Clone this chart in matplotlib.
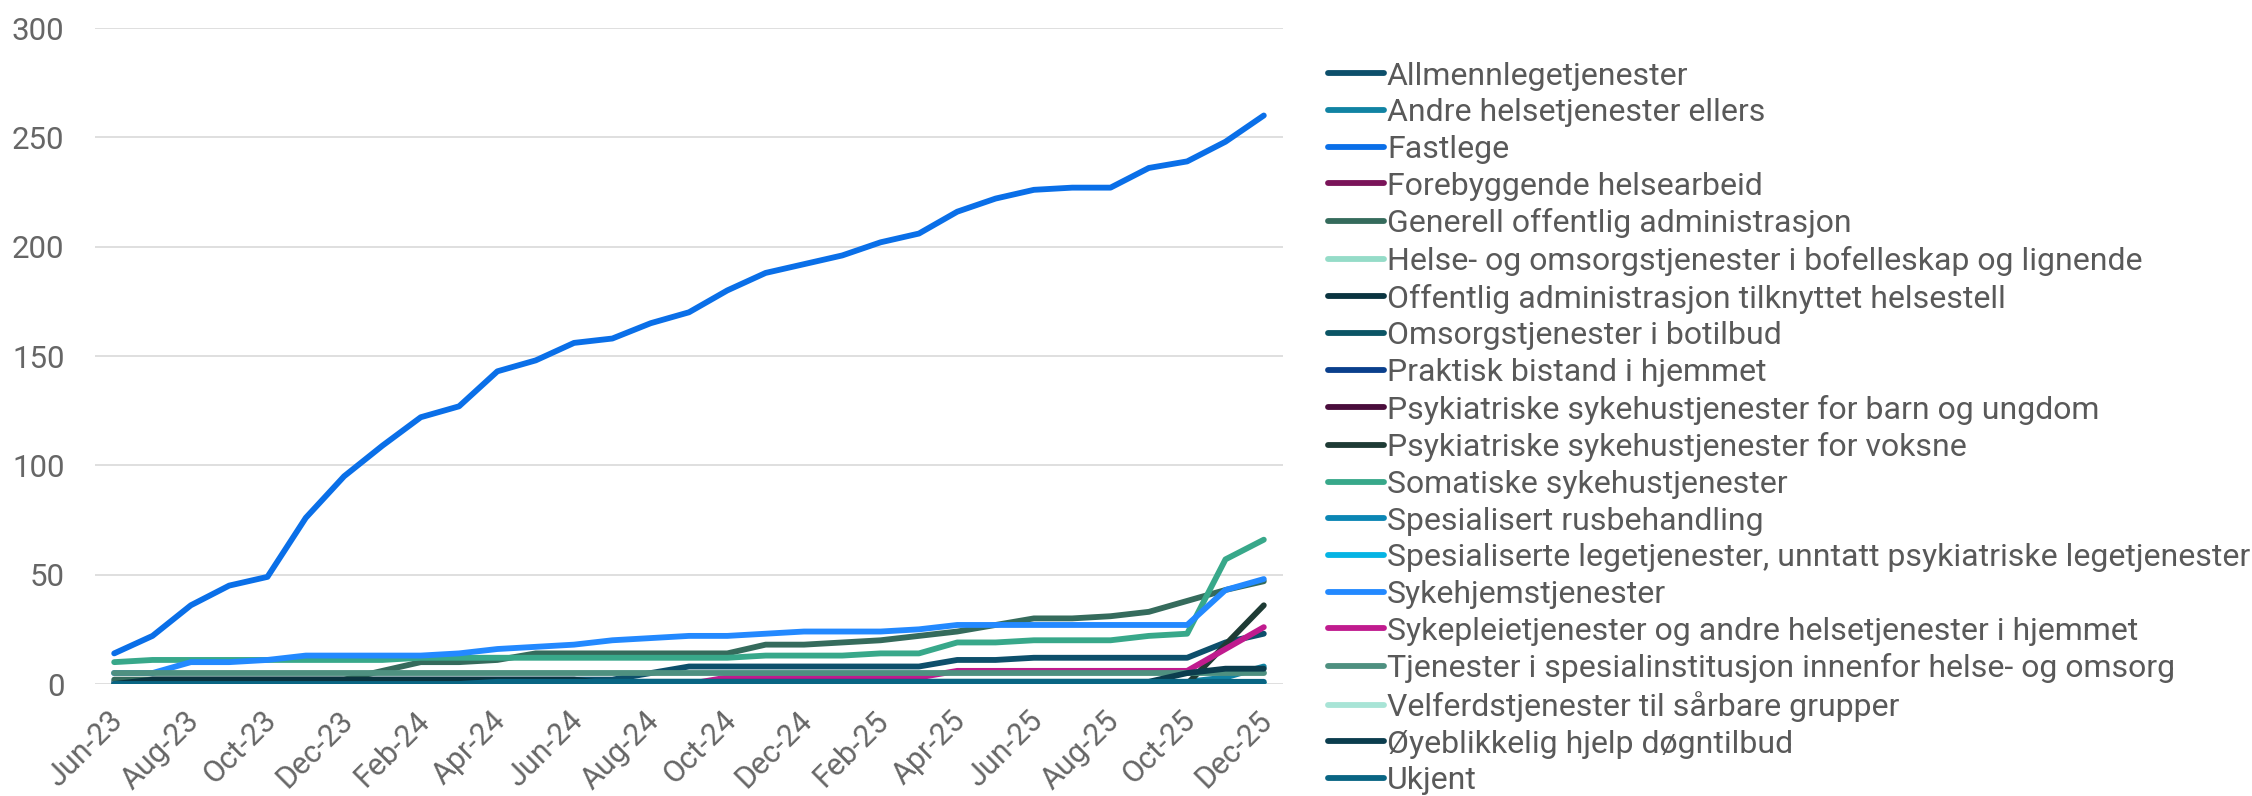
import matplotlib
matplotlib.use("Agg")
import matplotlib.pyplot as plt
from matplotlib.transforms import ScaledTranslation

plt.rcParams['font.family'] = ['Roboto', 'DejaVu Sans']

months = ["Jun-23", "Jul-23", "Aug-23", "Sep-23", "Oct-23", "Nov-23", "Dec-23",
          "Jan-24", "Feb-24", "Mar-24", "Apr-24", "May-24", "Jun-24", "Jul-24",
          "Aug-24", "Sep-24", "Oct-24", "Nov-24", "Dec-24", "Jan-25", "Feb-25",
          "Mar-25", "Apr-25", "May-25", "Jun-25", "Jul-25", "Aug-25", "Sep-25",
          "Oct-25", "Nov-25", "Dec-25"]

allmennlege = [1] + [2] * 13 + [5, 8, 8, 8, 8, 8, 8, 8, 11, 11, 12, 12, 12, 12, 12, 19, 23]
andre_helse = [0] * 10 + [1] * 19 + [3, 8]
fastlege = [14, 22, 36, 45, 49, 76, 95, 109, 122, 127, 143, 148, 156, 158, 165, 170,
            180, 188, 192, 196, 202, 206, 216, 222, 226, 227, 227, 236, 239, 248, 260]
forebyggende = [0] * 31
generell = [2, 2, 2, 2, 2, 2, 2, 6, 10, 10, 11, 14, 14, 14, 14, 14, 14, 18, 18, 19,
            20, 22, 24, 27, 30, 30, 31, 33, 38, 43, 47]
bofelleskap = [0] * 31
offentlig_adm = [0] + [2] * 12 + [0] * 18
omsorg_botilbud = [0] * 31
praktisk = [0] * 31
psyk_barn = [0] * 31
psyk_voksne = [0] * 29 + [18, 36]
somatiske = [10, 11, 11, 11, 11, 11, 11, 11, 12, 12, 12, 12, 12, 12, 12, 12, 12, 13,
             13, 13, 14, 14, 19, 19, 20, 20, 20, 22, 23, 57, 66]
rusbehandling = [0] * 31
spes_lege = [0] * 31
sykehjem = [5, 5, 10, 10, 11, 13, 13, 13, 13, 14, 16, 17, 18, 20, 21, 22, 22, 23, 24,
            24, 24, 25, 27, 27, 27, 27, 27, 27, 27, 43, 48]
sykepleie = [0] * 16 + [3] * 6 + [6] * 7 + [16, 26]
spesialinst = [5] * 31
velferd = [0] * 31
oyeblikkelig = [0] * 10 + [1] * 18 + [5, 7, 7]
ukjent = [0] * 10 + [1] * 21

series_names = [
    "Allmennlegetjenester",
    "Andre helsetjenester ellers",
    "Fastlege",
    "Forebyggende helsearbeid",
    "Generell offentlig administrasjon",
    "Helse- og omsorgstjenester i bofelleskap og lignende",
    "Offentlig administrasjon tilknyttet helsestell",
    "Omsorgstjenester i botilbud",
    "Praktisk bistand i hjemmet",
    "Psykiatriske sykehustjenester for barn og ungdom",
    "Psykiatriske sykehustjenester for voksne",
    "Somatiske sykehustjenester",
    "Spesialisert rusbehandling",
    "Spesialiserte legetjenester, unntatt psykiatriske legetjenester",
    "Sykehjemstjenester",
    "Sykepleietjenester og andre helsetjenester i hjemmet",
    "Tjenester i spesialinstitusjon innenfor helse- og omsorg",
    "Velferdstjenester til sårbare grupper",
    "Øyeblikkelig hjelp døgntilbud",
    "Ukjent",
]
series_values = [allmennlege, andre_helse, fastlege, forebyggende, generell, bofelleskap,
                 offentlig_adm, omsorg_botilbud, praktisk, psyk_barn, psyk_voksne,
                 somatiske, rusbehandling, spes_lege, sykehjem, sykepleie, spesialinst,
                 velferd, oyeblikkelig, ukjent]
colors = ["#0D4F6B", "#1183A3", "#0A6FE8", "#7A1459", "#356B5C", "#95DCC8", "#0A3440",
          "#0B5565", "#0A3F8C", "#4A0D3C", "#1E3B35", "#38A88A", "#0B86B4", "#05B4E4",
          "#2389FF", "#C01B8E", "#4E9080", "#A8E4D6", "#0B3D4E", "#096583"]

yticks = [0, 50, 100, 150, 200, 250, 300]

fig = plt.figure(figsize=(22.52, 7.96), dpi=100)
ax = fig.add_axes([0.0422, 0.1407, 0.5275, 0.8241])

x = list(range(len(months)))
for name, vals, c in zip(series_names, series_values, colors):
    ax.plot(x, vals, color=c, lw=4.2, label=name,
            solid_capstyle='round', solid_joinstyle='round')

ax.set_xlim(-0.5, len(months) - 0.5)
ax.set_ylim(0, 300)
ax.set_yticks(yticks)
ax.set_yticklabels([str(v) for v in yticks])
ax.set_xticks(x[::2])
ax.set_xticklabels(months[::2], rotation=45, ha='right', va='center',
                   rotation_mode='anchor')
ax.grid(axis='y', color='#D9D9D9', lw=1.2)
ax.set_axisbelow(True)
for s in ax.spines.values():
    s.set_visible(False)
ax.tick_params(axis='y', length=0, labelsize=22.5, colors='#666666', pad=22)
ax.tick_params(axis='x', length=0, labelsize=22, colors='#666666', pad=23)
offset = ScaledTranslation(4 / 100, 0, fig.dpi_scale_trans)
for lbl in ax.get_xticklabels():
    lbl.set_transform(lbl.get_transform() + offset)

leg = fig.legend(loc='upper left', bbox_to_anchor=(0.5895, 0.9226), frameon=False,
                 fontsize=23, handlelength=1.78, handletextpad=0.08,
                 labelspacing=0.24, borderpad=0, borderaxespad=0)
for t in leg.get_texts():
    t.set_color('#595959')

fig.savefig("out.png", dpi=100)
